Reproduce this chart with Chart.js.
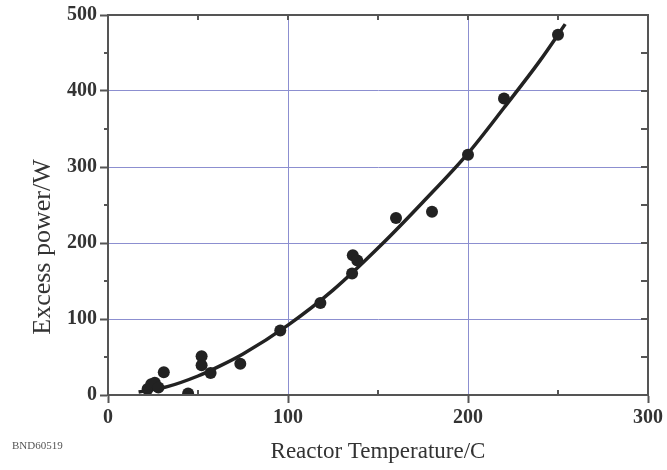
<!DOCTYPE html>
<html>
<head>
<meta charset="utf-8">
<script src="https://cdn.jsdelivr.net/npm/chart.js@4"></script>
<style>
  body { margin: 0; background: #fff; }
  #wrap { position: relative; width: 667px; height: 470px; }
  #tag { position: absolute; left: 12px; top: 439px; font: 11px "Liberation Serif", serif; color: #555; }
</style>
</head>
<body>
<div id="wrap">
  <canvas id="powerChart" width="667" height="470"></canvas>
  <div id="tag">BND60519</div>
</div>
<script>
// measured points
const tempC = [22, 24, 26, 28, 31, 44.5, 52, 52, 57, 73.5, 95.7, 118, 135.6, 136, 138.5, 160, 180, 200, 220, 250];
const powerW = [8, 14, 16, 10, 30, 2, 51, 39, 29, 41, 85, 121, 160, 184, 177, 233, 241, 316, 390, 474];

// fitted curve
const fitT = [17, 33, 50, 62, 75, 100, 125, 152, 175, 200, 220, 240, 254];
const fitW = [4, 11, 25, 38, 54, 92, 138, 198, 254, 318, 378, 440, 488];

const xLabels = [0, 100, 200, 300];
const yLabels = [0, 100, 200, 300, 400, 500];

const gridBlue = '#8c8fd0';
const axisGrey = '#555';

// box round the plot plus the small inside ticks
const frame = {
    id: 'frame',
    afterDraw(chart) {
        const { ctx, chartArea: a, scales: { x, y } } = chart;
        ctx.save();
        ctx.strokeStyle = axisGrey;
        ctx.lineWidth = 2;
        ctx.strokeRect(a.left, a.top, a.right - a.left, a.bottom - a.top);
        ctx.beginPath();
        for (let v = 50; v < 300; v += 50) {
            const px = x.getPixelForValue(v);
            ctx.moveTo(px, a.top); ctx.lineTo(px, a.top + 5);
            if (v % 100) { ctx.moveTo(px, a.bottom); ctx.lineTo(px, a.bottom - 5); }
        }
        for (let v = 50; v < 500; v += 50) {
            const py = y.getPixelForValue(v);
            ctx.moveTo(a.right, py); ctx.lineTo(a.right - 7, py);
            if (v % 100) { ctx.moveTo(a.left, py); ctx.lineTo(a.left - 4, py); }
        }
        ctx.stroke();

        // y title sits a bit below the middle in the original
        ctx.translate(43, 247);
        ctx.rotate(-Math.PI / 2);
        ctx.fillStyle = '#333';
        ctx.font = '26px "Liberation Serif"';
        ctx.textAlign = 'center';
        ctx.textBaseline = 'middle';
        ctx.fillText('Excess power/W', 0, 0);
        ctx.restore();
    }
};

function axis(max, labels, title, size) {
    return {
        type: 'linear',
        min: 0,
        max: max,
        grid: {
            color: c => (labels.includes(c.tick.value) && c.tick.value > 0 && c.tick.value < max) ? gridBlue : 'rgba(0,0,0,0)',
            tickColor: c => labels.includes(c.tick.value) ? axisGrey : 'rgba(0,0,0,0)',
            lineWidth: 1,
            tickWidth: 2,
            tickLength: 8
        },
        border: { display: true, color: axisGrey, width: 2 },
        ticks: {
            stepSize: 50,
            autoSkip: false,
            maxRotation: 0,
            padding: 3,
            color: '#333',
            font: { family: 'Liberation Serif', size: 20, weight: 'bold' },
            callback: v => labels.includes(v) ? String(v) : ''
        },
        title: {
            display: !!title,
            text: title,
            color: '#333',
            font: { family: 'Liberation Serif', size: 23 },
            padding: { top: 0, bottom: 4 }
        },
        afterFit: size
    };
}

const ctx = document.getElementById('powerChart');
new Chart(ctx, {
    type: 'scatter',
    data: {
        datasets: [{
            data: tempC.map((t, i) => ({ x: t, y: powerW[i] })),
            pointRadius: 6,
            pointHoverRadius: 6,
            backgroundColor: '#222',
            borderWidth: 0
        }, {
            data: fitT.map((t, i) => ({ x: t, y: fitW[i] })),
            showLine: true,
            pointRadius: 0,
            borderColor: '#222',
            borderWidth: 3.5,
            cubicInterpolationMode: 'monotone'
        }]
    },
    options: {
        responsive: false,
        animation: false,
        layout: { padding: { left: 0, right: 19, top: 14, bottom: 0 } },
        plugins: { legend: { display: false }, tooltip: { enabled: false } },
        scales: {
            x: axis(300, xLabels, 'Reactor Temperature/C', s => { s.height = 75; }),
            y: axis(500, yLabels, '', s => { s.width = 108; })
        }
    },
    plugins: [frame]
});
</script>
</body>
</html>
